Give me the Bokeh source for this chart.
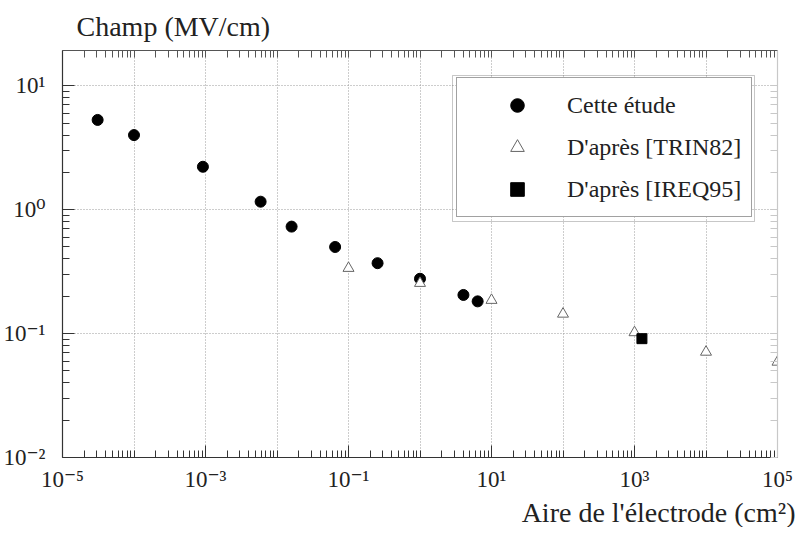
import numpy as np
from bokeh.plotting import figure
from bokeh.models import (LogAxis, FixedTicker, CustomJSTickFormatter, Title,
                          BoxAnnotation, Legend, LegendItem)
from bokeh.embed import file_html
from bokeh.resources import INLINE

# ---- data ----
x_etude = [3.1e-5, 1.0e-4, 9.2e-4, 5.9e-3, 0.016, 0.065, 0.255, 1.0, 4.05, 6.4]
y_etude = [5.3, 4.0, 2.22, 1.16, 0.73, 0.50, 0.37, 0.277, 0.205, 0.182]
x_trin = [0.1, 1.0, 10.0, 100.0, 1000.0, 1.0e4, 1.0e5]
y_trin = [0.337, 0.255, 0.186, 0.144, 0.102, 0.071, 0.059]
x_ireq = [1270.0]
y_ireq = [0.091]

labels = ["Cette étude", "D'après [TRIN82]", "D'après [IREQ95]"]
x_exps = list(range(-5, 6))
x_label_exps = [-5, -3, -1, 1, 3, 5]
y_exps = list(range(-2, 2))
title_y = "Champ (MV/cm)"
title_x = "Aire de l'électrode (cm²)"

FONT = "'Liberation Serif', 'DejaVu Serif', serif"
XMIN, XMAX = 1e-5, 1e5
YMIN, YMAX = 1e-2, 19.26
FW, FH = 715, 407

p = figure(frame_width=FW, frame_height=FH, x_axis_type="log", y_axis_type="log",
           x_range=(XMIN, XMAX), y_range=(YMIN, YMAX),
           output_backend="svg", toolbar_location=None,
           min_border_left=62, min_border_right=24, min_border_top=50,
           min_border_bottom=60)
p.outline_line_color = None
p.background_fill_color = "white"
p.border_fill_color = "white"

x_all = [10.0 ** e for e in x_exps]
x_lab = [10.0 ** e for e in x_label_exps]
x_sub = [m * 10.0 ** e for e in x_exps[:-1] for m in range(2, 10)]
x_minor_bottom = sorted(x_sub + [v for v in x_all if v not in x_lab])
x_minor_top = sorted(x_sub + x_all)
y_major = [10.0 ** e for e in y_exps]
y_sub = [m * 10.0 ** e for e in y_exps for m in range(2, 10)]
y_minor_right = sorted(y_sub + y_major)

fmt_code = """
const e = Math.round(Math.log10(tick));
const sup = {"-":"\u207b","0":"\u2070","1":"\u00b9","2":"\u00b2","3":"\u00b3",
             "4":"\u2074","5":"\u2075","6":"\u2076","7":"\u2077","8":"\u2078","9":"\u2079"};
return "10" + String(e).split("").map(c => sup[c]).join("");
"""
fmt = CustomJSTickFormatter(code=fmt_code)

def style_axis(ax, color="#333333"):
    ax.major_tick_in = 12
    ax.major_tick_out = 0
    ax.minor_tick_in = 7
    ax.minor_tick_out = 0
    ax.axis_line_color = color
    ax.major_tick_line_color = color
    ax.minor_tick_line_color = color
    ax.axis_line_width = 1.2
    ax.major_label_text_font = FONT
    ax.major_label_text_font_size = "23px"
    ax.major_label_text_color = "#222222"

xa = p.xaxis[0]
xa.ticker = FixedTicker(ticks=x_lab, minor_ticks=x_minor_bottom)
xa.formatter = fmt
style_axis(xa)
xa.major_label_standoff = 9

ya = p.yaxis[0]
ya.ticker = FixedTicker(ticks=y_major, minor_ticks=y_sub)
ya.formatter = fmt
style_axis(ya)
ya.major_label_standoff = 17

top = LogAxis(ticker=FixedTicker(ticks=[], minor_ticks=x_minor_top), formatter=fmt)
style_axis(top, "#555555")
top.major_label_standoff = 0
p.add_layout(top, "above")

right = LogAxis(ticker=FixedTicker(ticks=[], minor_ticks=y_minor_right), formatter=fmt)
style_axis(right, "#c8c8c8")
right.major_label_standoff = 0
p.add_layout(right, "right")

p.xgrid[0].ticker = FixedTicker(ticks=x_all)
p.ygrid[0].ticker = FixedTicker(ticks=y_major)
for g in (p.xgrid[0], p.ygrid[0]):
    g.grid_line_color = "#9a9a9a"
    g.grid_line_dash = "1 2"
    g.grid_line_width = 1

p.title.text = title_y
p.title.text_font = FONT
p.title.text_font_size = "28px"
p.title.text_font_style = "normal"
p.title.text_color = "#222222"
p.title.align = "left"
p.title.offset = 14
p.title.standoff = 17

bt = Title(text=title_x, align="right", offset=-18, text_font=FONT, standoff=0,
           text_font_size="28px", text_font_style="normal", text_color="#222222")
p.add_layout(bt, "below")

r1 = p.scatter(x_etude, y_etude, marker="circle", size=11, fill_color="black",
               line_color="black")
r2 = p.scatter(x_trin, y_trin, marker="triangle", size=11, fill_color="white",
               line_color="#666666", line_width=1)
r3 = p.scatter(x_ireq, y_ireq, marker="square", size=10, fill_color="black",
               line_color="black")

# outer frame of the double legend border (decoration), pixel offsets -> data
def px2x(px):
    return 10 ** (np.log10(XMIN) + px / FW * (np.log10(XMAX) - np.log10(XMIN)))

def px2y(py):
    return 10 ** (np.log10(YMAX) - py / FH * (np.log10(YMAX) - np.log10(YMIN)))

box = BoxAnnotation(left=px2x(390), right=px2x(692), top=px2y(25), bottom=px2y(171),
                    fill_color=None, fill_alpha=0, line_color="#444444", line_width=1,
                    level="overlay")
p.add_layout(box)

legend = Legend(items=[LegendItem(label=labels[0], renderers=[r1]),
                       LegendItem(label=labels[1], renderers=[r2]),
                       LegendItem(label=labels[2], renderers=[r3])],
                location=(394, 240))
legend.label_text_font = FONT
legend.label_text_font_size = "24px"
legend.label_text_color = "#222222"
legend.padding = 10
legend.spacing = 8
legend.label_height = 34
legend.glyph_height = 34
legend.glyph_width = 100
legend.label_standoff = 0
legend.border_line_color = "#444444"
legend.border_line_width = 1
legend.background_fill_color = "white"
legend.background_fill_alpha = 1.0
legend.margin = 0
p.add_layout(legend, "center")

open("out.html", "w").write(file_html(p, INLINE))
